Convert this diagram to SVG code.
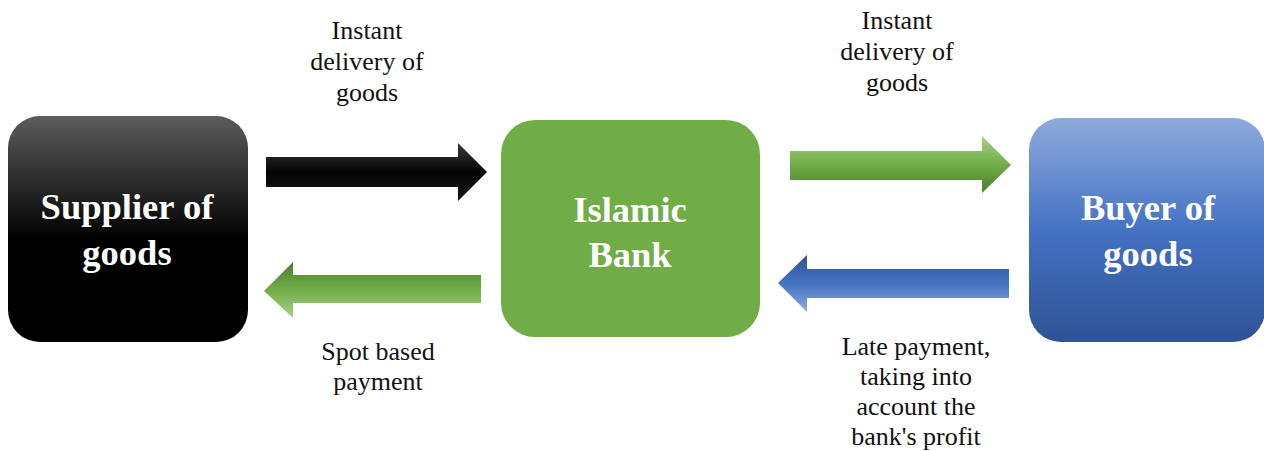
<svg xmlns="http://www.w3.org/2000/svg" width="1264" height="451" viewBox="0 0 1264 451">
  <defs>
    <linearGradient id="gSupplier" x1="0" y1="0" x2="0" y2="1">
      <stop offset="0" stop-color="#5c5c5c"/>
      <stop offset="0.55" stop-color="#000000"/>
      <stop offset="1" stop-color="#000000"/>
    </linearGradient>
    <linearGradient id="gBuyer" x1="0" y1="0" x2="0" y2="1">
      <stop offset="0" stop-color="#8eaadb"/>
      <stop offset="0.5" stop-color="#4472c4"/>
      <stop offset="1" stop-color="#2f5294"/>
    </linearGradient>
    <linearGradient id="gBlackArrow" x1="0" y1="0" x2="0" y2="1">
      <stop offset="0" stop-color="#3a3a3a"/>
      <stop offset="0.5" stop-color="#050505"/>
      <stop offset="1" stop-color="#141414"/>
    </linearGradient>
    <linearGradient id="gGreenUp" x1="0" y1="0" x2="0" y2="1">
      <stop offset="0" stop-color="#a9d18e"/>
      <stop offset="0.5" stop-color="#70ad47"/>
      <stop offset="1" stop-color="#4e7d30"/>
    </linearGradient>
    <linearGradient id="gGreenDown" x1="0" y1="0" x2="0" y2="1">
      <stop offset="0" stop-color="#4e7d30"/>
      <stop offset="0.5" stop-color="#70ad47"/>
      <stop offset="1" stop-color="#a9d18e"/>
    </linearGradient>
    <linearGradient id="gBlueArrow" x1="0" y1="0" x2="0" y2="1">
      <stop offset="0" stop-color="#2f5294"/>
      <stop offset="0.5" stop-color="#4472c4"/>
      <stop offset="1" stop-color="#8eaadb"/>
    </linearGradient>
    <style>
      .box-title { font-family: "Liberation Serif", "Times New Roman", serif; font-weight: bold; font-size: 36.5px; fill: #ffffff; text-anchor: middle; }
      .label { font-family: "Liberation Serif", "Times New Roman", serif; font-size: 26px; fill: #111111; text-anchor: middle; }
    </style>
  </defs>

  <!-- connectors: block arrows between the parties -->
  <g id="connectors">
    <polygon id="arrow-supplier-to-bank" fill="url(#gBlackArrow)" points="266,157 458,157 458,143 487,172 458,201 458,187 266,187"/>
    <polygon id="arrow-bank-to-supplier" fill="url(#gGreenDown)" points="481,275 293,275 293,262 264,291 293,318 293,303 481,303"/>
    <polygon id="arrow-bank-to-buyer" fill="url(#gGreenUp)" points="790,151 982,151 982,136 1011,165 982,193 982,180 790,180"/>
    <polygon id="arrow-buyer-to-bank" fill="url(#gBlueArrow)" points="1009,269 807,269 807,255 778,283 807,312 807,298 1009,298"/>
  </g>

  <g id="supplier">
    <rect x="8" y="116" width="240" height="226" rx="32" ry="32" fill="url(#gSupplier)"/>
    <text class="box-title" x="127" y="219">Supplier of</text>
    <text class="box-title" x="127" y="265">goods</text>
  </g>

  <g id="bank">
    <rect x="501" y="120" width="259" height="217" rx="34" ry="34" fill="#70ad47"/>
    <text class="box-title" x="630" y="222">Islamic</text>
    <text class="box-title" x="630" y="267">Bank</text>
  </g>

  <g id="buyer">
    <rect x="1029" y="118" width="236" height="224" rx="32" ry="32" fill="url(#gBuyer)"/>
    <text class="box-title" x="1148" y="220">Buyer of</text>
    <text class="box-title" x="1148" y="266">goods</text>
  </g>

  <g id="label-delivery-left">
    <text class="label" x="367" y="39">Instant</text>
    <text class="label" x="367" y="70">delivery of</text>
    <text class="label" x="367" y="101">goods</text>
  </g>

  <g id="label-delivery-right">
    <text class="label" x="897" y="29">Instant</text>
    <text class="label" x="897" y="60">delivery of</text>
    <text class="label" x="897" y="91">goods</text>
  </g>

  <g id="label-spot-payment">
    <text class="label" x="378" y="360">Spot based</text>
    <text class="label" x="378" y="390">payment</text>
  </g>

  <g id="label-late-payment">
    <text class="label" x="916" y="355">Late payment,</text>
    <text class="label" x="916" y="385">taking into</text>
    <text class="label" x="916" y="415">account the</text>
    <text class="label" x="916" y="445">bank's profit</text>
  </g>
</svg>
